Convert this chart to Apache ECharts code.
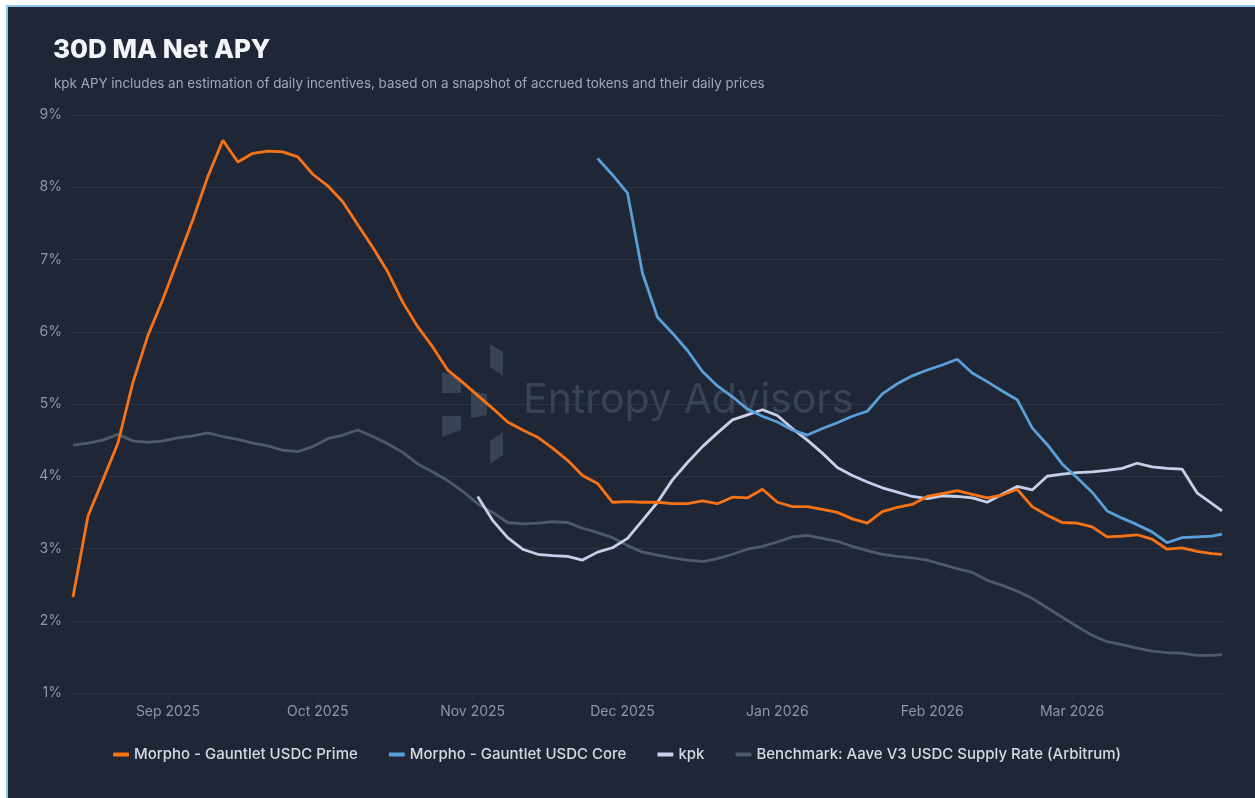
<!DOCTYPE html>
<html>
<head>
<meta charset="utf-8">
<title>30D MA Net APY</title>
<script src="https://cdn.jsdelivr.net/npm/echarts@6/dist/echarts.min.js"></script>
<style>
  html, body { margin: 0; padding: 0; background: #fff; overflow: hidden; }
  #main { position: absolute; left: 0; top: 0; width: 1255px; height: 798px; background: #1f2737; }
  #frame { position: absolute; left: 6px; top: 5px; width: 1262px; height: 806px; border: 2px solid #8ec5ef; box-shadow: 0 0 0 20px #fff; pointer-events: none; }
</style>
</head>
<body>
<div id="main"></div>
<div id="frame"></div>
<script>
// sampled every 3 days from 13 Aug 2025, plus the last day
var startDate = Date.UTC(2025, 7, 13);
var endDate = Date.UTC(2026, 2, 31);
var dayMs = 86400000;
var dates = [];
for (var k = 0; k < 77; k++) dates.push(startDate + k * 3 * dayMs);
dates.push(endDate);

var monthNames = ['Jan', 'Feb', 'Mar', 'Apr', 'May', 'Jun', 'Jul', 'Aug', 'Sep', 'Oct', 'Nov', 'Dec'];
var yTicks = [1, 2, 3, 4, 5, 6, 7, 8, 9];

var seriesNames = ['Morpho - Gauntlet USDC Prime', 'Morpho - Gauntlet USDC Core', 'kpk', 'Benchmark: Aave V3 USDC Supply Rate (Arbitrum)'];
var seriesColors = ['#f97316', '#5b9fd9', '#c7d0ea', '#4d596c'];

var prime = [2.33, 3.45, 3.95, 4.46, 5.3, 5.95, 6.45, 7.0, 7.55, 8.15,
  8.65, 8.35, 8.47, 8.5, 8.49, 8.42, 8.18, 8.02, 7.8, 7.48,
  7.17, 6.83, 6.41, 6.07, 5.79, 5.47, 5.3, 5.12, 4.94, 4.75,
  4.64, 4.54, 4.39, 4.22, 4.01, 3.9, 3.64, 3.65, 3.64, 3.64,
  3.62, 3.62, 3.66, 3.62, 3.71, 3.7, 3.82, 3.64, 3.58, 3.58,
  3.54, 3.5, 3.41, 3.35, 3.51, 3.57, 3.61, 3.72, 3.76, 3.8,
  3.75, 3.7, 3.74, 3.82, 3.58, 3.46, 3.36, 3.35, 3.3, 3.16,
  3.17, 3.19, 3.13, 2.99, 3.01, 2.96, 2.93, 2.92];

var core = [null, null, null, null, null, null, null, null, null, null,
  null, null, null, null, null, null, null, null, null, null,
  null, null, null, null, null, null, null, null, null, null,
  null, null, null, null, null, 8.4, 8.17, 7.92, 6.81, 6.2,
  5.98, 5.74, 5.45, 5.25, 5.1, 4.93, 4.83, 4.75, 4.64, 4.57,
  4.66, 4.74, 4.83, 4.9, 5.14, 5.28, 5.39, 5.47, 5.54, 5.62,
  5.43, 5.31, 5.18, 5.06, 4.67, 4.44, 4.17, 3.98, 3.78, 3.52,
  3.42, 3.33, 3.23, 3.08, 3.15, 3.16, 3.17, 3.2];

var kpk = [null, null, null, null, null, null, null, null, null, null,
  null, null, null, null, null, null, null, null, null, null,
  null, null, null, null, null, null, null, 3.72, 3.39, 3.15,
  2.99, 2.92, 2.9, 2.89, 2.84, 2.95, 3.01, 3.14, 3.39, 3.64,
  3.95, 4.19, 4.41, 4.6, 4.78, 4.85, 4.92, 4.84, 4.66, 4.5,
  4.32, 4.12, 4.01, 3.92, 3.84, 3.78, 3.72, 3.69, 3.73, 3.72,
  3.7, 3.64, 3.75, 3.86, 3.81, 4.0, 4.03, 4.05, 4.06, 4.08,
  4.11, 4.18, 4.13, 4.11, 4.1, 3.77, 3.62, 3.52];

var benchmark = [4.43, 4.46, 4.5, 4.58, 4.49, 4.47, 4.49, 4.53, 4.56, 4.6,
  4.55, 4.51, 4.46, 4.42, 4.36, 4.34, 4.41, 4.52, 4.57, 4.64,
  4.55, 4.45, 4.33, 4.17, 4.06, 3.94, 3.79, 3.62, 3.5, 3.36,
  3.34, 3.35, 3.37, 3.36, 3.28, 3.22, 3.15, 3.04, 2.95, 2.91,
  2.87, 2.84, 2.82, 2.86, 2.92, 2.99, 3.03, 3.09, 3.16, 3.18,
  3.14, 3.1, 3.03, 2.97, 2.92, 2.89, 2.87, 2.84, 2.78, 2.72,
  2.67, 2.56, 2.49, 2.41, 2.31, 2.18, 2.05, 1.92, 1.8, 1.71,
  1.67, 1.62, 1.58, 1.56, 1.55, 1.52, 1.52, 1.53];

var allValues = [prime, core, kpk, benchmark];

function pairs(vals) {
  return dates.map(function (d, i) { return [d, vals[i]]; });
}

var gridColor = '#2c3546';
var labelColor = '#8e97a7';
var wmColor = '#394356';

var chart = echarts.init(document.getElementById('main'));

var series = seriesNames.map(function (name, i) {
  return {
    name: name,
    type: 'line',
    data: pairs(allValues[i]),
    showSymbol: false,
    symbol: 'none',
    connectNulls: false,
    z: 10 - i,
    lineStyle: { width: 2.8, color: seriesColors[i] },
    itemStyle: { color: seriesColors[i] }
  };
});

chart.setOption({
  useUTC: true,
  backgroundColor: '#1f2737',
  animation: false,
  textStyle: { fontFamily: 'Inter, "Noto Sans", sans-serif' },
  title: [{
    text: '30D MA Net APY',
    left: 48,
    top: 32,
    textStyle: { color: '#f3f4f6', fontSize: 26, fontWeight: 800, fontFamily: 'Inter' }
  }, {
    text: 'kpk APY includes an estimation of daily incentives, based on a snapshot of accrued tokens and their daily prices',
    left: 49,
    top: 72,
    textStyle: { color: '#a1a9b6', fontSize: 13.4, fontWeight: 400, fontFamily: 'Inter' }
  }],
  legend: {
    data: seriesNames,
    left: 108,
    top: 742,
    icon: 'roundRect',
    itemWidth: 16,
    itemHeight: 4,
    itemGap: 31,
    textStyle: { color: '#d6dbe3', fontSize: 15, fontWeight: 500, fontFamily: 'Inter' }
  },
  grid: { left: 73, right: 33, top: 115, bottom: 105, containLabel: false },
  xAxis: {
    type: 'time',
    min: startDate,
    max: endDate,
    minInterval: 28 * dayMs,
    maxInterval: 31 * dayMs,
    axisLine: { show: true, lineStyle: { color: gridColor, width: 1 } },
    axisTick: { show: true, length: 6, lineStyle: { color: gridColor } },
    axisLabel: {
      color: labelColor,
      fontSize: 14,
      margin: 12,
      hideOverlap: false,
      formatter: function (v) {
        var d = new Date(v);
        if (d.getUTCDate() !== 1) return '';
        return monthNames[d.getUTCMonth()] + ' ' + d.getUTCFullYear();
      }
    },
    splitLine: { show: false }
  },
  yAxis: {
    type: 'value',
    min: yTicks[0],
    max: yTicks[yTicks.length - 1],
    interval: 1,
    axisLine: { show: false },
    axisTick: { show: false },
    axisLabel: { color: labelColor, fontSize: 14, margin: 11, formatter: '{value}%' },
    splitLine: { lineStyle: { color: gridColor, width: 1 } }
  },
  graphic: [
    { type: 'polygon', z: 1, silent: true, shape: { points: [[442, 372], [461, 378], [461, 393], [442, 393]] }, style: { fill: wmColor } },
    { type: 'polygon', z: 1, silent: true, shape: { points: [[442, 416], [461, 416], [461, 430], [442, 437]] }, style: { fill: wmColor } },
    { type: 'polygon', z: 1, silent: true, shape: { points: [[471, 391], [487, 394], [487, 415], [471, 418]] }, style: { fill: wmColor } },
    { type: 'polygon', z: 1, silent: true, shape: { points: [[490, 344], [503, 352], [503, 376], [490, 367]] }, style: { fill: wmColor } },
    { type: 'polygon', z: 1, silent: true, shape: { points: [[490, 441], [503, 432], [503, 455], [490, 464]] }, style: { fill: wmColor } },
    {
      type: 'text', z: 1, silent: true, left: 523, top: 380,
      style: { text: 'Entropy Advisors', fill: wmColor, font: '400 41px Inter' }
    }
  ],
  series: series
});
</script>
</body>
</html>
